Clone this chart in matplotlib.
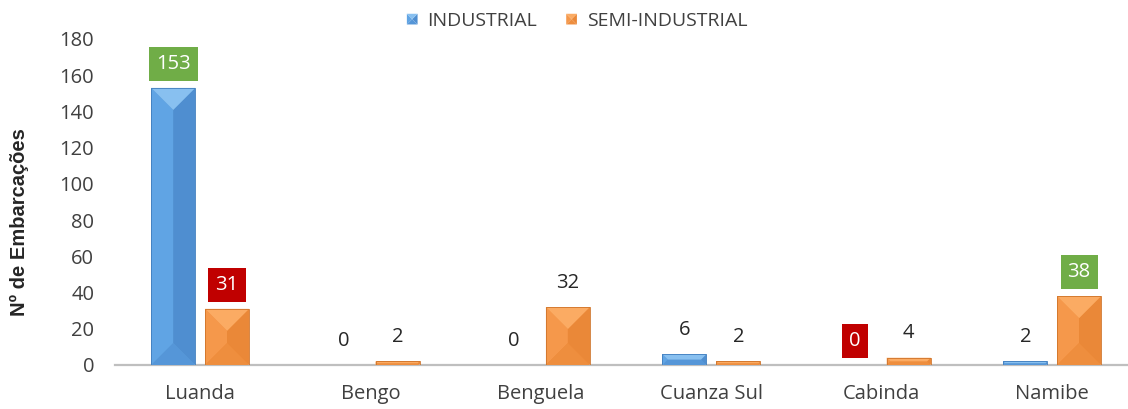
import numpy as np
import matplotlib
matplotlib.use("Agg")
import matplotlib.pyplot as plt
from matplotlib.patches import Polygon
from matplotlib.legend_handler import HandlerBase

plt.rcParams["font.family"] = ["Open Sans", "DejaVu Sans"]

categories = ["Luanda", "Bengo", "Benguela", "Cuanza Sul", "Cabinda", "Namibe"]
industrial = [153, 0, 0, 6, 0, 2]
semi_industrial = [31, 2, 32, 2, 4, 38]
# label box colour per bar (None = plain label)
industrial_box = ["#70AD47", None, None, None, "#C00000", None]
semi_box = ["#C00000", None, None, None, None, "#70AD47"]

BLUE = {"base": "#5B9BD5", "top": "#88C0F0", "left": "#60A4E4", "right": "#4F8ED0",
        "bottom": "#5596D8", "edge": "#417EBE"}
ORANGE = {"base": "#F08A35", "top": "#FBAB63", "left": "#F5984B", "right": "#EA8838",
          "bottom": "#EE8E3E", "edge": "#CF742A"}
TEXT = "#404040"


def bevel_faces(x0, y0, x1, y1, dx, dy):
    xi0, xi1 = x0 + dx, x1 - dx
    yi0, yi1 = y0 + dy, y1 - dy
    return {
        "left": [(x0, y0), (x0, y1), (xi0, yi1), (xi0, yi0)],
        "right": [(x1, y0), (x1, y1), (xi1, yi1), (xi1, yi0)],
        "bottom": [(x0, y0), (x1, y0), (xi1, yi0), (xi0, yi0)],
        "top": [(x0, y1), (x1, y1), (xi1, yi1), (xi0, yi1)],
    }


def add_bevel(ax, rect, pal, sx, sy):
    x0, y0 = rect.get_x(), rect.get_y()
    w, h = rect.get_width(), rect.get_height()
    if h <= 0:
        return
    d = min(w * sx, h * sy) / 2
    faces = bevel_faces(x0, y0, x0 + w, y0 + h, d / sx, d / sy)
    for name, pts in faces.items():
        ax.add_patch(Polygon(pts, closed=True, facecolor=pal[name], edgecolor="none",
                             zorder=3))
    ax.add_patch(Polygon([(x0, y0), (x0, y0 + h), (x0 + w, y0 + h), (x0 + w, y0)],
                         closed=True, fill=False, edgecolor=pal["edge"], lw=0.6, zorder=4))


class BevelHandler(HandlerBase):
    def __init__(self, pal):
        super().__init__()
        self.pal = pal

    def create_artists(self, legend, orig_handle, xdescent, ydescent, width, height,
                       fontsize, trans):
        s = min(width, height)
        x0 = -xdescent + (width - s) / 2
        y0 = -ydescent + (height - s) / 2
        arts = []
        for name, pts in bevel_faces(x0, y0, x0 + s, y0 + s, s / 2, s / 2).items():
            arts.append(Polygon(pts, closed=True, facecolor=self.pal[name],
                                edgecolor="none", transform=trans))
        return arts


fig = plt.figure(figsize=(11.28, 4.09), dpi=100)
ax = fig.add_axes([115 / 1128, 44 / 409, 1022.4 / 1128, 326 / 409])

x = np.arange(len(categories))
bw, off = 0.258, 0.158
bars_ind = ax.bar(x - off, industrial, bw, color=BLUE["base"], zorder=2)
bars_semi = ax.bar(x + off, semi_industrial, bw, color=ORANGE["base"], zorder=2)

ax.set_xlim(-0.5, len(categories) - 0.5)
ax.set_ylim(0, 180)
ax.set_yticks(np.arange(0, 181, 20))
ax.set_xticks(x)
ax.set_xticklabels(categories)

# pixels per data unit, for a constant 45 degree bevel
p = ax.transData.transform([(0, 0), (1, 1)])
sx, sy = p[1, 0] - p[0, 0], p[1, 1] - p[0, 1]

for bars, pal in ((bars_ind, BLUE), (bars_semi, ORANGE)):
    for r in bars:
        add_bevel(ax, r, pal, sx, sy)

for bars, vals, boxes in ((bars_ind, industrial, industrial_box),
                          (bars_semi, semi_industrial, semi_box)):
    for r, v, bc in zip(bars, vals, boxes):
        kw = {}
        if bc:
            kw["bbox"] = dict(boxstyle="square,pad=0.35", facecolor=bc, edgecolor="none")
        ax.annotate(str(v), (r.get_x() + r.get_width() / 2, v), xytext=(0, 17.5),
                    textcoords="offset points", ha="center", va="center", fontsize=14.5,
                    color="white" if bc else "#262626", zorder=5, **kw)

for s in ("top", "right", "left"):
    ax.spines[s].set_visible(False)
ax.spines["bottom"].set_color("#BFBFBF")
ax.spines["bottom"].set_linewidth(1.6)
ax.tick_params(axis="both", length=0, labelsize=14.5, labelcolor=TEXT)
ax.tick_params(axis="y", pad=15)
ax.tick_params(axis="x", pad=14)

fig.text(19 / 1128, 1 - 222 / 409, "Nº de Embarcações", rotation=90, ha="center",
         va="center", fontsize=14.5, fontweight="bold", color="#262626",
         family=["Liberation Sans", "DejaVu Sans"])

fig.legend([bars_ind, bars_semi], ["INDUSTRIAL", "SEMI-INDUSTRIAL"],
           handler_map={bars_ind: BevelHandler(BLUE), bars_semi: BevelHandler(ORANGE)},
           loc="center", bbox_to_anchor=(577 / 1128, 1 - 21 / 409), ncol=2,
           frameon=False, fontsize=14, labelcolor=TEXT, handlelength=0.55,
           handleheight=0.55, handletextpad=0.5, columnspacing=1.5)

fig.savefig("out.png", dpi=100)
